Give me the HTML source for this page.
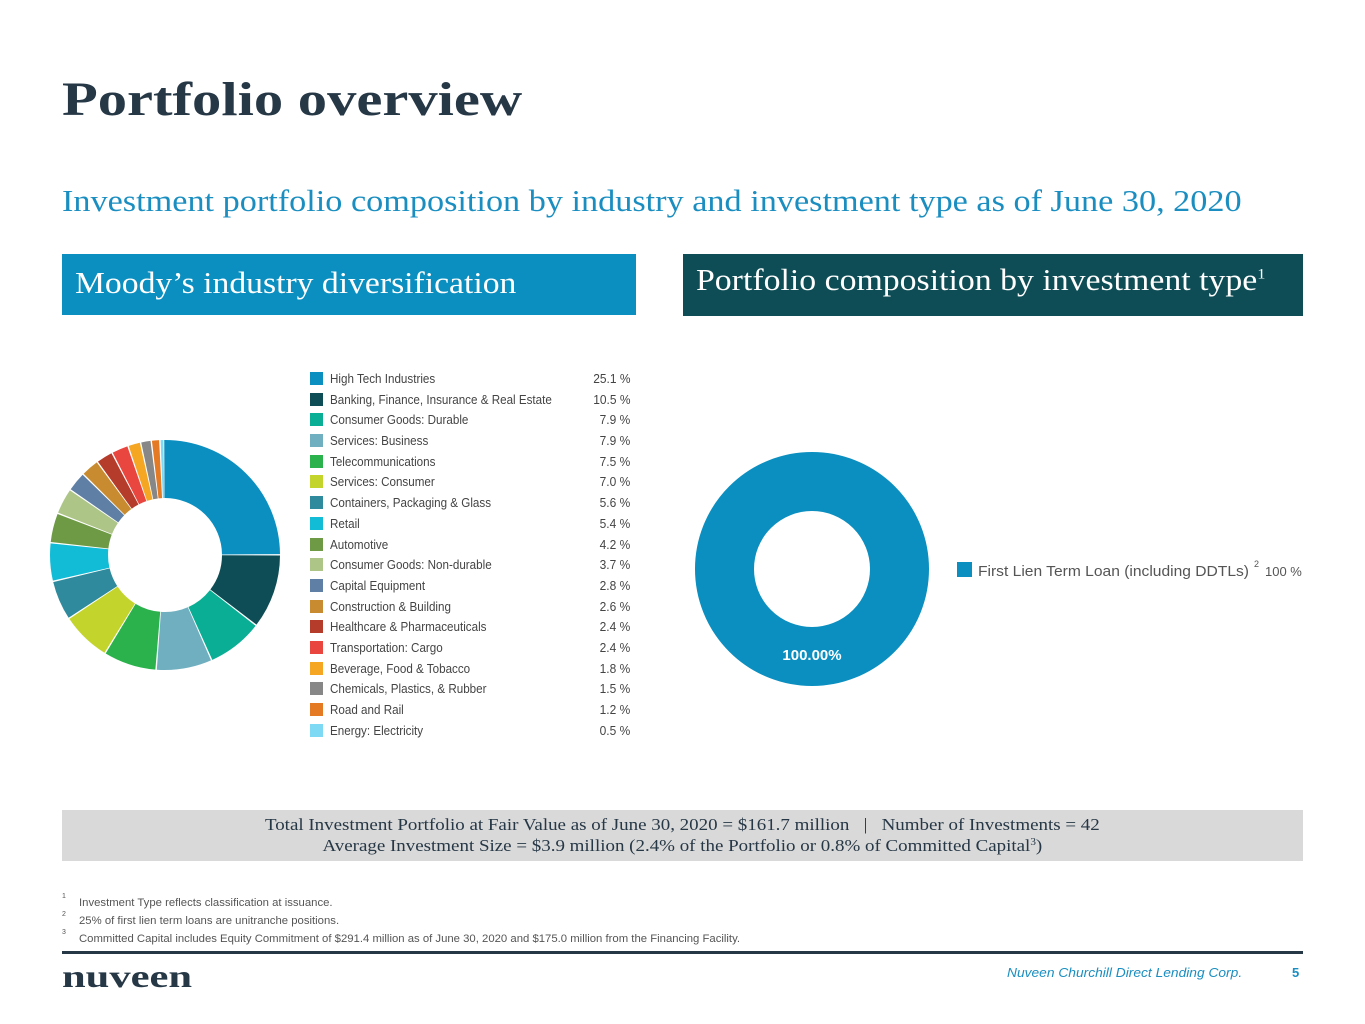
<!DOCTYPE html>
<html><head><meta charset="utf-8"><style>
body{margin:0;width:1365px;height:1024px;background:#fff;position:relative;overflow:hidden;font-family:"Liberation Sans",sans-serif}
.a{position:absolute;white-space:nowrap}
.serif{font-family:"Liberation Serif",serif}
.sx{display:inline-block;transform-origin:0 50%}
.hdr{position:absolute;color:#fff;font-family:"Liberation Serif",serif;font-size:31px;box-sizing:border-box;padding-left:13px;line-height:58px;white-space:nowrap}
.lg{position:absolute;left:310px;width:320px;height:20px;font-size:13px;color:#444}
.lg i{position:absolute;left:0;top:3px;width:13px;height:13px}
.lg span{position:absolute;left:20px;top:2px;transform:scaleX(0.895);transform-origin:0 0;white-space:nowrap}
.lg b{position:absolute;right:0;top:2px;font-weight:normal;transform:scaleX(0.92);transform-origin:100% 0}
.fn{position:absolute;left:62px;font-size:11px;color:#555}
.fn sup{font-size:7px;position:absolute;left:0;top:-4px}
.fn span{position:absolute;left:17px;white-space:nowrap;transform:scaleX(1.03);transform-origin:0 0}
</style></head><body>
<div class="a serif" style="left:62px;top:72px;font-size:48px;font-weight:bold;color:#263746"><span class="sx" style="transform:scaleX(1.22)">Portfolio overview</span></div>
<div class="a serif" style="left:62px;top:183px;font-size:31px;color:#1a8ec0"><span class="sx" style="transform:scaleX(1.104)">Investment portfolio composition by industry and investment type as of June 30, 2020</span></div>
<div class="hdr" style="left:62px;top:254px;width:574px;height:61px;background:#0a8fc0"><span class="sx" style="transform:scaleX(1.086)">Moody’s industry diversification</span></div>
<div class="hdr" style="left:683px;top:254px;width:620px;height:62px;background:#0e4d55;line-height:52px"><span class="sx" style="transform:scaleX(1.09)">Portfolio composition by investment type<sup style="font-size:15px;line-height:0">1</sup></span></div>

<svg class="a" style="left:0;top:0" width="1365" height="1024">
<g transform="rotate(-90 165 555)" fill="none" stroke-width="58">
<circle cx="165" cy="555" r="86" pathLength="100" stroke="#0a8fc0" stroke-dasharray="24.9 75.1" stroke-dashoffset="0"/>
<circle cx="165" cy="555" r="86" pathLength="100" stroke="#0e4d55" stroke-dasharray="10.3 89.7" stroke-dashoffset="-25.1"/>
<circle cx="165" cy="555" r="86" pathLength="100" stroke="#0aae94" stroke-dasharray="7.7 92.3" stroke-dashoffset="-35.6"/>
<circle cx="165" cy="555" r="86" pathLength="100" stroke="#70afc0" stroke-dasharray="7.7 92.3" stroke-dashoffset="-43.5"/>
<circle cx="165" cy="555" r="86" pathLength="100" stroke="#2bb24c" stroke-dasharray="7.3 92.7" stroke-dashoffset="-51.4"/>
<circle cx="165" cy="555" r="86" pathLength="100" stroke="#c3d52c" stroke-dasharray="6.8 93.2" stroke-dashoffset="-58.9"/>
<circle cx="165" cy="555" r="86" pathLength="100" stroke="#2e8a9c" stroke-dasharray="5.4 94.6" stroke-dashoffset="-65.9"/>
<circle cx="165" cy="555" r="86" pathLength="100" stroke="#12bcd6" stroke-dasharray="5.2 94.8" stroke-dashoffset="-71.5"/>
<circle cx="165" cy="555" r="86" pathLength="100" stroke="#6e9a45" stroke-dasharray="4.0 96" stroke-dashoffset="-76.9"/>
<circle cx="165" cy="555" r="86" pathLength="100" stroke="#adc587" stroke-dasharray="3.5 96.5" stroke-dashoffset="-81.1"/>
<circle cx="165" cy="555" r="86" pathLength="100" stroke="#5f7fa5" stroke-dasharray="2.6 97.4" stroke-dashoffset="-84.8"/>
<circle cx="165" cy="555" r="86" pathLength="100" stroke="#c98b30" stroke-dasharray="2.4 97.6" stroke-dashoffset="-87.6"/>
<circle cx="165" cy="555" r="86" pathLength="100" stroke="#b53b2b" stroke-dasharray="2.2 97.8" stroke-dashoffset="-90.2"/>
<circle cx="165" cy="555" r="86" pathLength="100" stroke="#e8463f" stroke-dasharray="2.2 97.8" stroke-dashoffset="-92.6"/>
<circle cx="165" cy="555" r="86" pathLength="100" stroke="#f5a623" stroke-dasharray="1.6 98.4" stroke-dashoffset="-95"/>
<circle cx="165" cy="555" r="86" pathLength="100" stroke="#878787" stroke-dasharray="1.3 98.7" stroke-dashoffset="-96.8"/>
<circle cx="165" cy="555" r="86" pathLength="100" stroke="#e57a25" stroke-dasharray="1.0 99" stroke-dashoffset="-98.3"/>
<circle cx="165" cy="555" r="86" pathLength="100" stroke="#7dd9f4" stroke-dasharray="0.4 99.6" stroke-dashoffset="-99.5"/>
</g>
<circle cx="812" cy="569" r="87.5" fill="none" stroke="#0a8fc0" stroke-width="59"/>
<text x="812" y="660" text-anchor="middle" font-family="Liberation Sans" font-weight="bold" font-size="15" fill="#fff">100.00%</text>
<rect x="957" y="562" width="15" height="15" fill="#0a8fc0"/>
<text x="978" y="576" font-family="Liberation Sans" font-size="15" fill="#555" textLength="271" lengthAdjust="spacingAndGlyphs">First Lien Term Loan (including DDTLs)</text>
<text x="1254" y="567" font-family="Liberation Sans" font-size="9" fill="#555">2</text>
<text x="1265" y="576" font-family="Liberation Sans" font-size="13" fill="#555">100 %</text>
</svg>

<div class="lg" style="top:369px"><i style="background:#0a8fc0"></i><span>High Tech Industries</span><b>25.1 %</b></div>
<div class="lg" style="top:390px"><i style="background:#0e4d55"></i><span>Banking, Finance, Insurance &amp; Real Estate</span><b>10.5 %</b></div>
<div class="lg" style="top:410px"><i style="background:#0aae94"></i><span>Consumer Goods: Durable</span><b>7.9 %</b></div>
<div class="lg" style="top:431px"><i style="background:#70afc0"></i><span>Services: Business</span><b>7.9 %</b></div>
<div class="lg" style="top:452px"><i style="background:#2bb24c"></i><span>Telecommunications</span><b>7.5 %</b></div>
<div class="lg" style="top:472px"><i style="background:#c3d52c"></i><span>Services: Consumer</span><b>7.0 %</b></div>
<div class="lg" style="top:493px"><i style="background:#2e8a9c"></i><span>Containers, Packaging &amp; Glass</span><b>5.6 %</b></div>
<div class="lg" style="top:514px"><i style="background:#12bcd6"></i><span>Retail</span><b>5.4 %</b></div>
<div class="lg" style="top:535px"><i style="background:#6e9a45"></i><span>Automotive</span><b>4.2 %</b></div>
<div class="lg" style="top:555px"><i style="background:#adc587"></i><span>Consumer Goods: Non-durable</span><b>3.7 %</b></div>
<div class="lg" style="top:576px"><i style="background:#5f7fa5"></i><span>Capital Equipment</span><b>2.8 %</b></div>
<div class="lg" style="top:597px"><i style="background:#c98b30"></i><span>Construction &amp; Building</span><b>2.6 %</b></div>
<div class="lg" style="top:617px"><i style="background:#b53b2b"></i><span>Healthcare &amp; Pharmaceuticals</span><b>2.4 %</b></div>
<div class="lg" style="top:638px"><i style="background:#e8463f"></i><span>Transportation: Cargo</span><b>2.4 %</b></div>
<div class="lg" style="top:659px"><i style="background:#f5a623"></i><span>Beverage, Food &amp; Tobacco</span><b>1.8 %</b></div>
<div class="lg" style="top:679px"><i style="background:#878787"></i><span>Chemicals, Plastics, &amp; Rubber</span><b>1.5 %</b></div>
<div class="lg" style="top:700px"><i style="background:#e57a25"></i><span>Road and Rail</span><b>1.2 %</b></div>
<div class="lg" style="top:721px"><i style="background:#7dd9f4"></i><span>Energy: Electricity</span><b>0.5 %</b></div>

<div class="a serif" style="left:62px;top:810px;width:1241px;height:51px;background:#d9d9d9;text-align:center;font-size:17px;color:#263746;line-height:21px;padding-top:4px;box-sizing:border-box"><span class="sx" style="transform:scaleX(1.115);transform-origin:50% 50%">Total Investment Portfolio at Fair Value as of June 30, 2020 = $161.7 million &nbsp;&nbsp;| &nbsp;&nbsp;Number of Investments = 42<br>Average Investment Size = $3.9 million (2.4% of the Portfolio or 0.8% of Committed Capital<span style="font-size:10px;line-height:0;position:relative;top:-6px">3</span>)</span></div>

<div class="fn" style="top:897px"><sup>1</sup><span>Investment Type reflects classification at issuance.</span></div>
<div class="fn" style="top:915px"><sup>2</sup><span>25% of first lien term loans are unitranche positions.</span></div>
<div class="fn" style="top:933px"><sup>3</sup><span>Committed Capital includes Equity Commitment of $291.4 million as of June 30, 2020 and $175.0 million from the Financing Facility.</span></div>
<div class="a" style="left:62px;top:951px;width:1241px;height:3px;background:#263746"></div>
<div class="a serif" style="left:62px;top:958px;font-size:32px;font-weight:bold;color:#263746"><span class="sx" style="transform:scaleX(1.33)">nuveen</span></div>
<div class="a" style="left:1007px;top:965px;font-size:13px;font-style:italic;color:#1a8ec0"><span class="sx" style="transform:scaleX(1.06)">Nuveen Churchill Direct Lending Corp.</span></div>
<div class="a" style="left:1292px;top:965px;font-size:13px;font-weight:bold;color:#1a8ec0">5</div>
</body></html>
